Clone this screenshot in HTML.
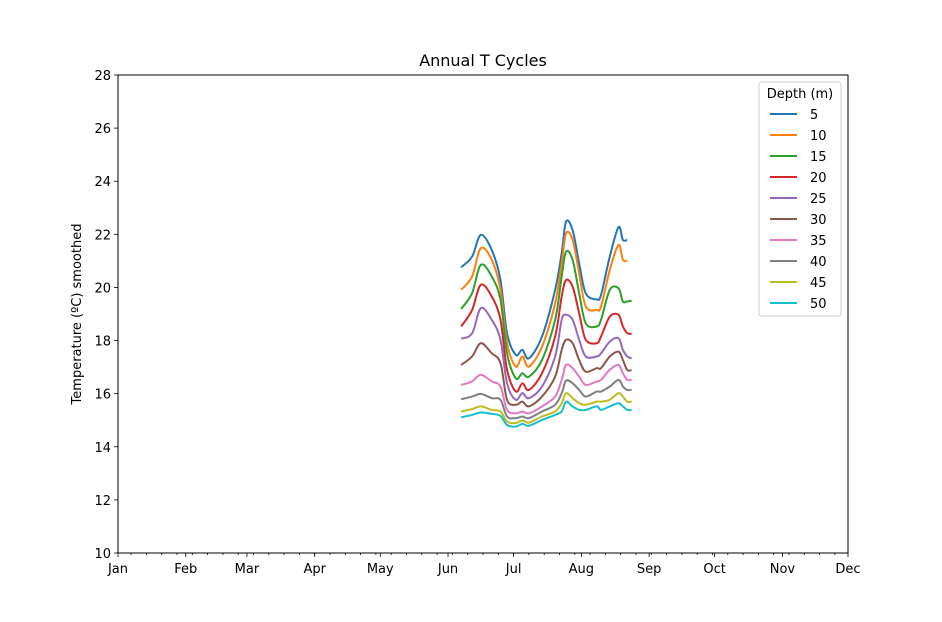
<!DOCTYPE html>
<html><head><meta charset="utf-8"><style>
html,body{margin:0;padding:0;background:#fff;}
svg{display:block;font-family:"DejaVu Sans","Liberation Sans",sans-serif;}
</style></head><body>
<svg id="chart" width="942" height="622">
<rect x="0" y="0" width="942" height="622" fill="#fff"/>
<text x="483" y="66" text-anchor="middle" font-size="16">Annual T Cycles</text>
<text transform="translate(81,314) rotate(-90)" text-anchor="middle" font-size="13">Temperature (ºC) smoothed</text>
<g id="plot"></g>
<rect x="118" y="75" width="730" height="478" fill="none" stroke="#000" stroke-width="1"/>
</svg>
<script>
const monthLabels = ["Jan","Feb","Mar","Apr","May","Jun","Jul","Aug","Sep","Oct","Nov","Dec"];
const monthDays = [0,31,59,90,120,151,181,212,243,273,304,334];
const yTicks = [10,12,14,16,18,20,22,24,26,28];
const depths = ["5","10","15","20","25","30","35","40","45","50"];
const colors = ["#1f77b4","#ff7f0e","#2ca02c","#d62728","#9467bd","#8c564b","#e377c2","#7f7f7f","#bcbd22","#17becf"];
const days = [157,162,166,171,175,178,182,185,188,194,200,203,205,208,211,214,219,221,225,229,231,233,235];
const t5  = [20.76,21.16,21.98,21.41,20.28,18.27,17.46,17.65,17.33,18.15,19.91,21.29,22.48,22.16,20.91,19.78,19.55,19.72,21.16,22.27,21.79,21.79];
const t10 = [19.91,20.41,21.48,21.04,19.91,17.9,17.02,17.4,17.02,17.77,19.4,20.91,22.04,21.79,20.53,19.28,19.15,19.28,20.66,21.6,21.04,21.01];
const t15 = [19.19,19.78,20.85,20.41,19.53,17.52,16.58,16.77,16.64,17.27,18.78,20.41,21.35,21.04,19.78,18.65,18.53,18.78,19.91,19.97,19.47,19.47,19.5];
const t20 = [18.53,19.15,20.1,19.66,18.78,16.9,16.08,16.39,16.14,16.77,18.15,19.66,20.28,20.03,19.03,18.03,17.9,18.15,18.9,18.97,18.53,18.28,18.25];
const t25 = [18.07,18.27,19.22,18.78,18.03,16.39,15.77,16.02,15.83,16.27,17.4,18.78,18.97,18.78,18.03,17.4,17.4,17.52,17.96,18.09,17.65,17.4,17.33];
const t30 = [17.08,17.4,17.9,17.52,17.15,15.77,15.58,15.7,15.52,15.89,16.64,17.65,18.03,17.9,17.27,16.83,16.96,16.96,17.4,17.58,17.27,16.89,16.89];
const t35 = [16.33,16.46,16.71,16.46,16.27,15.39,15.26,15.33,15.26,15.52,15.89,16.52,17.08,16.96,16.64,16.33,16.46,16.52,16.9,17.08,16.77,16.52,16.52];
const t40 = [15.79,15.89,15.99,15.83,15.77,15.14,15.08,15.14,15.08,15.33,15.58,16.02,16.49,16.39,16.14,15.89,16.08,16.08,16.27,16.52,16.27,16.14,16.14];
const t45 = [15.33,15.42,15.52,15.39,15.33,14.95,14.89,14.99,14.91,15.14,15.33,15.64,16.02,15.83,15.64,15.58,15.7,15.7,15.77,16.02,15.89,15.7,15.7];
const t50 = [15.11,15.2,15.29,15.24,15.16,14.82,14.76,14.86,14.79,15.01,15.2,15.33,15.7,15.52,15.39,15.39,15.52,15.39,15.52,15.64,15.52,15.39,15.39];
const series = [t5,t10,t15,t20,t25,t30,t35,t40,t45,t50];

const NS="http://www.w3.org/2000/svg";
const X0=118,X1=848,Y0=553,Y1=75;
function xs(d){return X0+(d-0)/(334-0)*(X1-X0);}
function ys(t){return Y0-(t-10)/(28-10)*(Y0-Y1);}
const plot=document.getElementById('plot');
function mk(tag,attrs,parent){const e=document.createElementNS(NS,tag);for(const k in attrs)e.setAttribute(k,attrs[k]);(parent||plot).appendChild(e);return e;}

// minor x ticks
for(let d=6; d<=334; d+=7){
  const t=mk('line',{x1:xs(d),x2:xs(d),y1:Y0,y2:Y0+2,stroke:'#000','stroke-width':0.8});
  
  
}
monthDays.forEach((d,i)=>{
  const t=mk('line',{x1:xs(d),x2:xs(d),y1:Y0,y2:Y0+4,stroke:'#000','stroke-width':0.8});
  
  
  const l=mk('text',{x:xs(d),y:Y0+20,'text-anchor':'middle','font-size':13});
  l.textContent=monthLabels[i];
  
  
});
yTicks.forEach(v=>{
  const t=mk('line',{x1:X0-4,x2:X0,y1:ys(v),y2:ys(v),stroke:'#000','stroke-width':0.8});
  
  
  const l=mk('text',{x:X0-7,y:ys(v)+5,'text-anchor':'end','font-size':13});
  l.textContent=v;
  
  
});

function smoothPath(pts){
  let d='M'+pts[0][0]+','+pts[0][1];
  for(let i=0;i<pts.length-1;i++){
    const p0=pts[Math.max(0,i-1)],p1=pts[i],p2=pts[i+1],p3=pts[Math.min(pts.length-1,i+2)];
    const c1x=p1[0]+(p2[0]-p0[0])/6,c1y=p1[1]+(p2[1]-p0[1])/6;
    const c2x=p2[0]-(p3[0]-p1[0])/6,c2y=p2[1]-(p3[1]-p1[1])/6;
    d+=' C'+c1x+','+c1y+' '+c2x+','+c2y+' '+p2[0]+','+p2[1];
  }
  return d;
}
series.forEach((s,i)=>{
  const pts=s.map((v,j)=>[xs(days[j]),ys(v)]);
  const p=mk('path',{d:smoothPath(pts),fill:'none',stroke:colors[i],'stroke-width':2,'stroke-linejoin':'round'});
  
  
});

// legend
const lg=mk('g',{});


mk('rect',{x:759,y:82,width:82,height:234,rx:3,fill:'#fff',stroke:'#ccc','stroke-width':1},lg);
const lt=mk('text',{x:800,y:98,'text-anchor':'middle','font-size':13},lg);
lt.textContent='Depth (m)';


depths.forEach((dp,i)=>{
  const y=114+i*21;
  const g=mk('g',{},lg);
  
  
  mk('line',{x1:770,x2:797,y1:y,y2:y,stroke:colors[i],'stroke-width':2},g);
  const t=mk('text',{x:810,y:y+5,'font-size':13},g);
  t.textContent=dp;
});
</script>
</body></html>
